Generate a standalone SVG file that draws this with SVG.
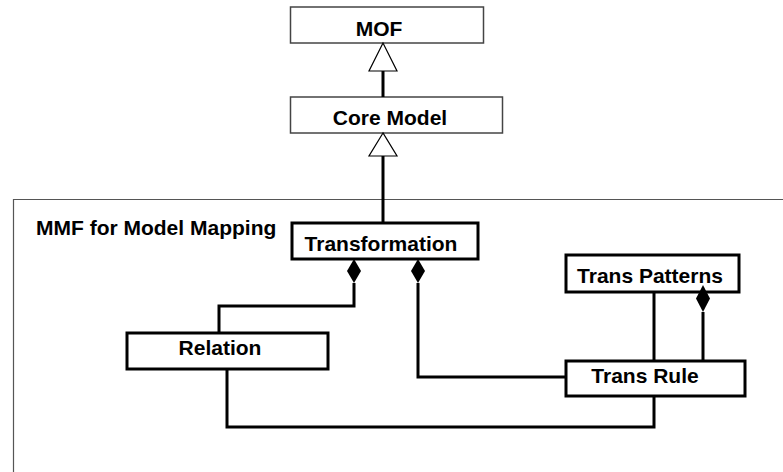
<svg xmlns="http://www.w3.org/2000/svg" width="783" height="472" viewBox="0 0 783 472">
<style>
text{font-family:"Liberation Sans",Arial,sans-serif;font-weight:bold;font-size:21px;fill:#000;text-anchor:middle}
.thin{fill:#fff;stroke:#444;stroke-width:1.5}
.thick{fill:#fff;stroke:#000;stroke-width:3}
.line{fill:none;stroke:#000;stroke-width:3}
.tri{fill:#fff;stroke:#000;stroke-width:1.2}
.dia{fill:#000;stroke:none}
</style>
<rect width="783" height="472" fill="#fff"/>
<g id="frame">
<path d="M13.5 472 V199.5 H783" fill="none" stroke="#555" stroke-width="1.2"/>
<text x="36" y="235" style="text-anchor:start">MMF for Model Mapping</text>
</g>
<g id="mof">
<rect class="thin" x="290.5" y="7" width="193" height="36"/>
<text x="379" y="36">MOF</text>
</g>
<g id="core-model">
<rect class="thin" x="290.5" y="97" width="212" height="36"/>
<text x="390" y="125">Core Model</text>
</g>
<g id="transformation">
<rect class="thick" x="292" y="223" width="186" height="36"/>
<text x="381" y="251">Transformation</text>
</g>
<g id="relation">
<rect class="thick" x="127" y="333" width="201" height="36"/>
<text x="220" y="355">Relation</text>
</g>
<g id="trans-patterns">
<rect class="thick" x="566" y="255" width="173" height="37"/>
<text x="650" y="283">Trans Patterns</text>
</g>
<g id="trans-rule">
<rect class="thick" x="566" y="361" width="179" height="35"/>
<text x="645" y="383">Trans Rule</text>
</g>
<g id="connectors">
<line class="line" x1="383" y1="71" x2="383" y2="97"/>
<polygon class="tri" points="383,43 369,71 397,71"/>
<line class="line" x1="383" y1="156" x2="383" y2="223"/>
<polygon class="tri" points="383,133 369,156 397,156"/>
<polyline class="line" points="354,283 354,306 219,306 219,333"/>
<polygon class="dia" points="354,259 361,271 354,283 347,271"/>
<polyline class="line" points="418,283 418,377 566,377"/>
<polygon class="dia" points="418,259 425,271 418,283 411,271"/>
<polyline class="line" points="227,369 227,427 654,427 654,397"/>
<line class="line" x1="654" y1="292" x2="654" y2="361"/>
<line class="line" x1="703" y1="312" x2="703" y2="361"/>
<polygon class="dia" points="703,285 710,298.5 703,312 696,298.5"/>
</g>
</svg>
